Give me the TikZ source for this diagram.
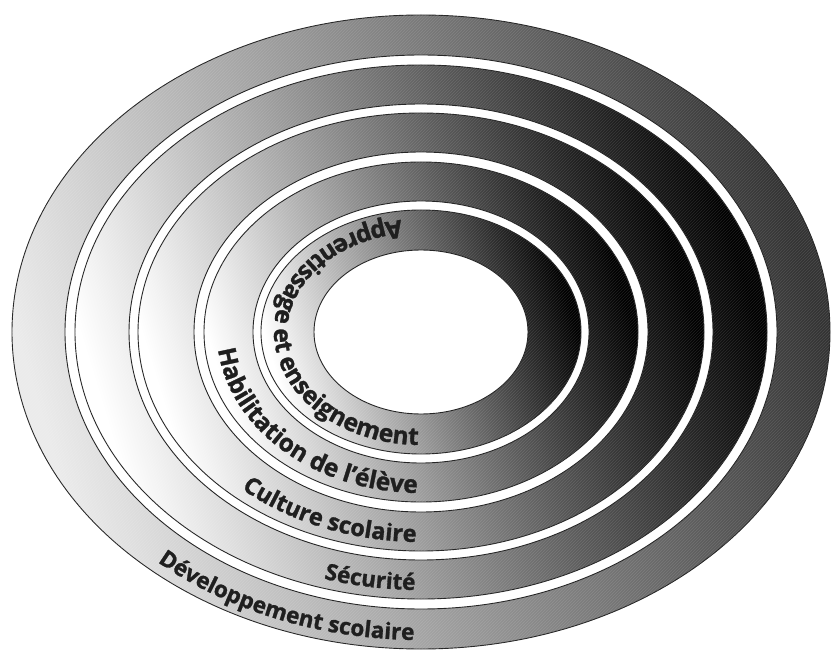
\documentclass[tikz,border=0pt]{standalone}
\usepackage{fontspec}
\newfontfamily\ringfont{Open Sans}[BoldFeatures={FakeBold=1.2}]
\usetikzlibrary{decorations.text,patterns}

\begin{document}
\begin{tikzpicture}[x=1pt,y=1pt,
  ring/.style 2 args={draw=black!85, line width=0.9pt, left color=#1, right color=#2, shading angle=107,
    postaction={pattern=north east lines, pattern color=white, opacity=0.12}},
  gap/.style={draw=black!85, line width=0.9pt, fill=white},
  ringlabel/.style 2 args={decorate, decoration={text along path, text align=right, text color=black!88,
    text={|\ringfont\bfseries\fontsize{#1}{#1}\selectfont|#2}}}]
\useasboundingbox (0,0) rectangle (832,651);
\coordinate (c) at (421,319);
% rings from outside in
\foreach \rx/\ry/\ix/\iy/\lc/\rc in {409/317/356/277/black!8/black!80,
    346/267/292/228/white/black, 283/219/227/180/white/black,
    217/170/168/131/white/black, 160/122/107/82/white/black}{
  \shade[ring={\lc}{\rc}] (c) ellipse [x radius=\rx pt, y radius=\ry pt];
  \filldraw[gap] (c) ellipse [x radius=\ix pt, y radius=\iy pt];
}
% labels along the rings
\foreach \tx/\ty/\a/\fs/\txt in {396/308/120/22.5/{Développement scolaire},
    333/258/140/22.5/{Sécurité}, 270/210/140/23.5/{Culture scolaire},
    204/161/150/24.5/{Habilitation de l’élève}, 147/113/60/24.5/{Apprentissage et enseignement}}{
  \path[shift={(c)}, ringlabel={\fs}{\txt}] (\a:\tx pt and \ty pt)
    arc [start angle=\a, end angle=269, x radius=\tx pt, y radius=\ty pt];
}
\end{tikzpicture}
\end{document}
